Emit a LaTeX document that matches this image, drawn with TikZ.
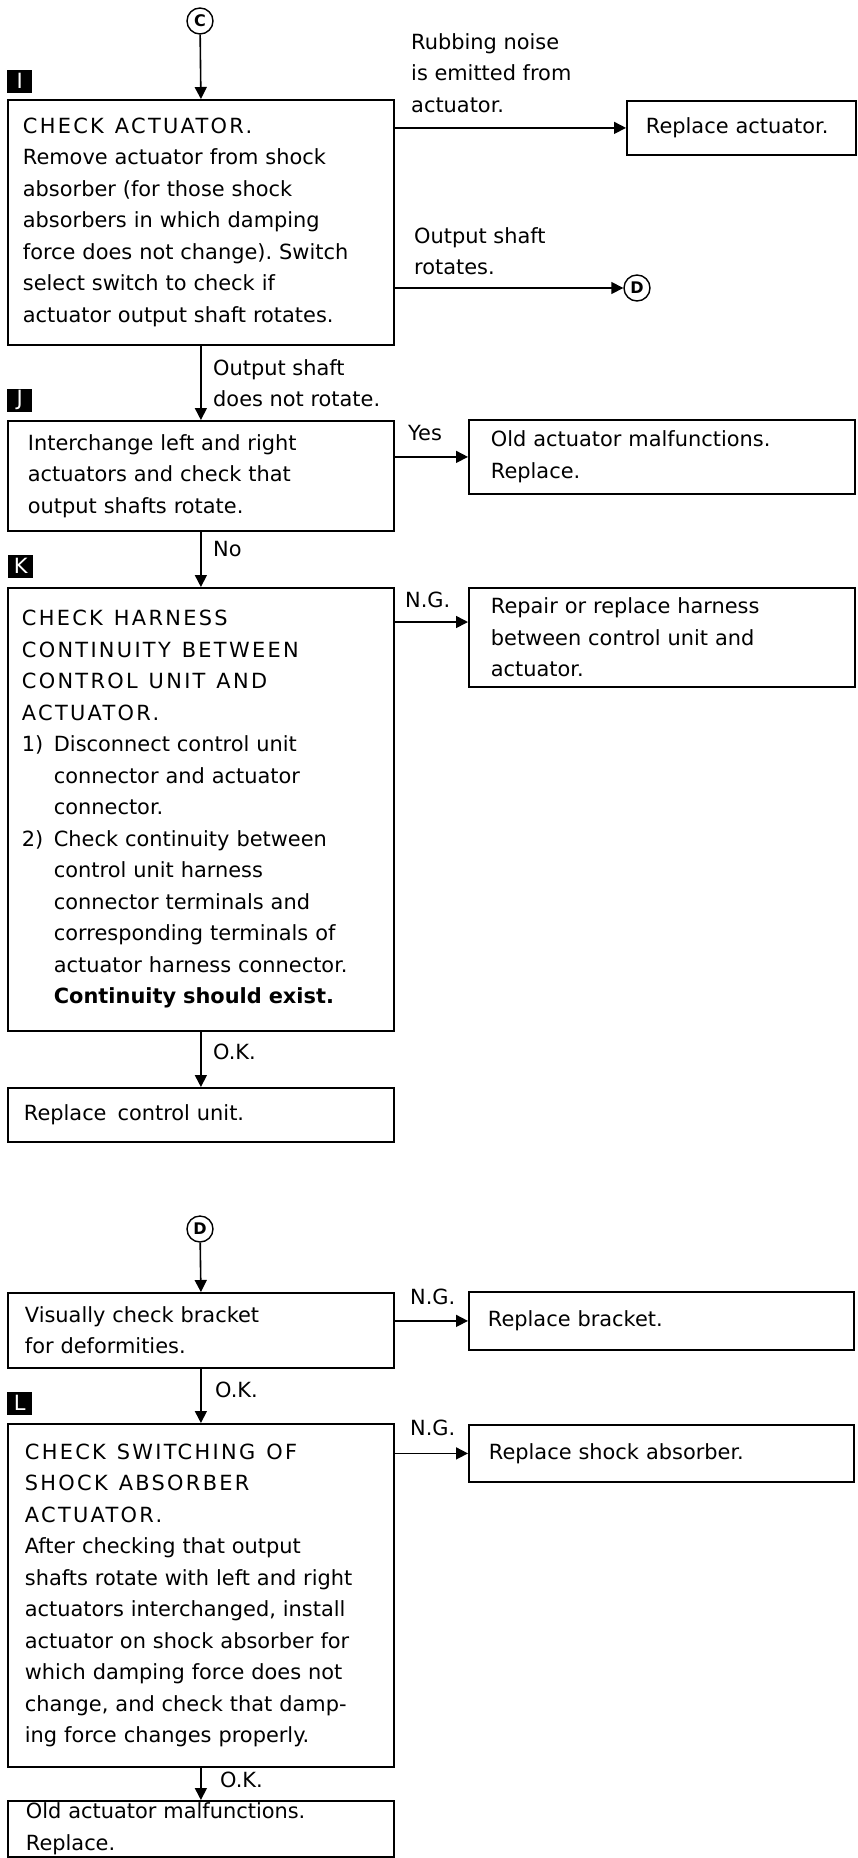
\documentclass[tikz,border=0pt]{standalone}
\usepackage{fontspec}
\setmainfont{DejaVu Sans}
\newfontfamily\capsfont[LetterSpace=11]{DejaVu Sans}
\newcommand\wgap{\hspace{11pt}}
\usetikzlibrary{arrows.meta}
\frenchspacing

\begin{document}
\begin{tikzpicture}[x=1pt,y=-1pt,
  every node/.style={font=\fontsize{20.9}{31.5}\selectfont},
  box/.style={draw,line width=1.8pt,anchor=north west,align=left,inner ysep=0pt},
  lbox/.style={box,inner xsep=16pt,text width=354pt},
  tag/.style={fill=black,text=white,anchor=south west,minimum width=25pt,minimum height=23pt,inner sep=0pt,font=\fontsize{21}{21}\selectfont},
  con/.style={draw,circle,line width=1.4pt,inner sep=0pt,minimum size=26pt,font=\bfseries\fontsize{16}{16}\selectfont},
  lab/.style={anchor=west,align=left,inner sep=0pt},
  arr/.style={line width=1.6pt,-{Triangle[length=12pt,width=12pt]}}]
\useasboundingbox (0,0) rectangle (857,1858);

\node[con] (C) at (200,21) {C};
\node[tag] (tI) at (7,93) {I};
\node[lbox,inner xsep=15pt,text width=356pt,minimum height=245pt] (I) at (7,99) {{\capsfont CHECK\wgap ACTUATOR.}\\Remove actuator from shock\\absorber (for those shock\\absorbers in which damping\\force does not change). Switch\\select switch to check if\\actuator output shaft rotates.};
\draw[arr] (C) -- (I.north);
\node[box,inner xsep=19pt,text width=191pt,minimum height=54pt] (act) at (626,100) {Replace actuator.};
\node[lab] (rub) at (411,73) {Rubbing noise\\is emitted from\\actuator.};
\draw[arr] (I.east |- act.west) -- (act.west);
\node[con] (D1) at (637,288) {D};
\node[lab] (rot) at (414,251) {Output shaft\\rotates.};
\draw[arr] (I.east |- D1) -- (D1.west);

\node[tag] (tJ) at (7,412) {J};
\node[lbox,inner xsep=20pt,text width=346pt,minimum height=110pt] (J) at (7,420) {Interchange left and right\\actuators and check that\\output shafts rotate.};
\node[lab] (nrot) at (213,383) {Output shaft\\does not rotate.};
\draw[arr] (I.south) -- (J.north);
\node[box,inner xsep=22pt,text width=342pt,minimum height=74pt] (old) at (468,419) {Old actuator malfunctions.\\Replace.};
\node[lab] (yes) at (408,433) {Yes};
\draw[arr] (J.east |- old.west) -- (old.west);

\node[tag] (tK) at (8,578) {K};
\node[lbox,inner xsep=14pt,text width=358pt,minimum height=443pt] (K) at (7,587) {{\capsfont CHECK\wgap HARNESS}\\{\capsfont CONTINUITY\wgap BETWEEN}\\{\capsfont CONTROL\wgap UNIT\wgap AND}\\{\capsfont ACTUATOR.}\\\makebox[32pt][l]{1)}Disconnect control unit\\\hspace*{32pt}connector and actuator\\\hspace*{32pt}connector.\\\makebox[32pt][l]{2)}Check continuity between\\\hspace*{32pt}control unit harness\\\hspace*{32pt}connector terminals and\\\hspace*{32pt}corresponding terminals of\\\hspace*{32pt}actuator harness connector.\\\hspace*{32pt}\textbf{Continuity should exist.}};
\node[lab] (no) at (213,549) {No};
\draw[arr] (J.south) -- (K.north);
\node[box,inner xsep=22pt,text width=342pt,minimum height=99pt] (rep) at (468,587) {Repair or replace harness\\between control unit and\\actuator.};
\node[lab] (ng1) at (405,600) {N.G.};
\coordinate (kng) at ([yshift=-35pt]K.north east);
\draw[arr] (kng) -- (kng -| rep.west);
\node[lbox,minimum height=54pt] (rcu) at (7,1087) {Replace\wgap control unit.};
\node[lab] (ok1) at (213,1052) {O.K.};
\draw[arr] (K.south) -- (rcu.north);

\node[con] (D2) at (200,1229) {D};
\node[lbox,inner xsep=17pt,text width=352pt,minimum height=75pt] (vis) at (7,1292) {Visually check bracket\\for deformities.};
\draw[arr] (D2) -- (vis.north);
\node[box,inner xsep=19pt,text width=347pt,minimum height=58pt] (brk) at (468,1291) {Replace bracket.};
\node[lab] (ng2) at (410,1297) {N.G.};
\draw[arr] (vis.east |- brk.west) -- (brk.west);

\node[tag] (tL) at (7,1415) {L};
\node[lbox,inner xsep=17pt,text width=352pt,minimum height=343pt] (L) at (7,1423) {{\capsfont CHECK\wgap SWITCHING\wgap OF}\\{\capsfont SHOCK\wgap ABSORBER}\\{\capsfont ACTUATOR.}\\After checking that output\\shafts rotate with left and right\\actuators interchanged, install\\actuator on shock absorber for\\which damping force does not\\change, and check that damp-\\ing force changes properly.};
\node[lab] (ok2) at (215,1390) {O.K.};
\draw[arr] (vis.south) -- (L.north);
\node[box,inner xsep=20pt,text width=345pt,minimum height=57pt] (shk) at (468,1424) {Replace shock absorber.};
\node[lab] (ng3) at (410,1428) {N.G.};
\draw[arr] (L.east |- shk.west) -- (shk.west);
\node[lbox,inner xsep=18pt,text width=350pt,minimum height=56pt] (fin) at (7,1800) {Old actuator malfunctions.\\Replace.};
\node[lab] (ok3) at (220,1780) {O.K.};
\draw[arr] (L.south) -- (fin.north);
\end{tikzpicture}
\end{document}
